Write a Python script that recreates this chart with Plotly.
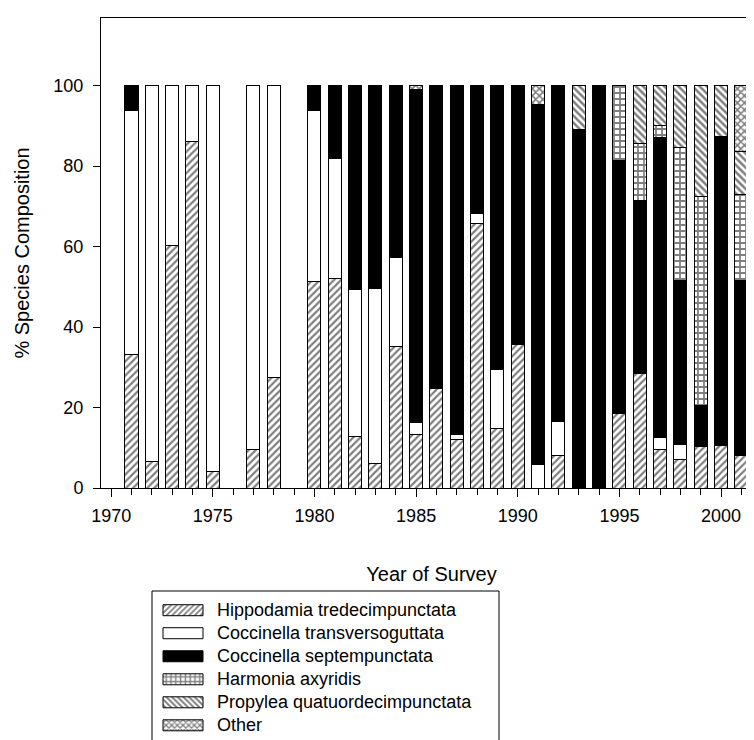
import plotly.graph_objects as go

# ---------------- data ----------------
years = [1971, 1972, 1973, 1974, 1975, 1977, 1978,
         1980, 1981, 1982, 1983, 1984, 1985, 1986, 1987, 1988, 1989, 1990,
         1991, 1992, 1993, 1994, 1995, 1996, 1997, 1998, 1999, 2000, 2001]

hippodamia = [33.3, 6.6, 60.2, 86.0, 4.1, 9.6, 27.5,
              51.3, 52.0, 12.8, 6.1, 35.1, 13.4, 24.8, 12.1, 65.8, 14.9, 35.7,
              0, 8.2, 0, 0, 18.6, 28.4, 9.6, 7.0, 10.3, 10.5, 8.0]
transversoguttata = [60.5, 93.4, 39.8, 14.0, 95.9, 90.4, 72.5,
                     42.5, 29.8, 36.5, 43.6, 22.2, 2.9, 0, 1.3, 2.3, 14.5, 0,
                     5.9, 8.3, 0, 0, 0, 0, 3.0, 3.9, 0, 0, 0]
septempunctata = [6.2, 0, 0, 0, 0, 0, 0,
                  6.2, 18.2, 50.7, 50.3, 42.7, 82.7, 75.2, 86.6, 31.9, 70.6, 64.3,
                  89.5, 83.5, 89.0, 100.0, 62.7, 43.0, 74.4, 40.6, 10.3, 76.9, 43.5]
harmonia = [0, 0, 0, 0, 0, 0, 0,
            0, 0, 0, 0, 0, 0, 0, 0, 0, 0, 0,
            0, 0, 0, 0, 18.7, 14.1, 3.1, 33.2, 51.9, 0, 21.4]
propylea = [0, 0, 0, 0, 0, 0, 0,
            0, 0, 0, 0, 0, 0, 0, 0, 0, 0, 0,
            0, 0, 11.0, 0, 0, 14.5, 9.9, 15.3, 27.5, 12.6, 10.8]
other = [0, 0, 0, 0, 0, 0, 0,
         0, 0, 0, 0, 0, 1.0, 0, 0, 0, 0, 0,
         4.6, 0, 0, 0, 0, 0, 0, 0, 0, 0, 16.3]

series_names = ["Hippodamia tredecimpunctata", "Coccinella transversoguttata",
                "Coccinella septempunctata", "Harmonia axyridis",
                "Propylea quatuordecimpunctata", "Other"]
series_values = [hippodamia, transversoguttata, septempunctata, harmonia, propylea, other]

y_ticks = [0, 20, 40, 60, 80, 100]
x_major_ticks = [1970, 1975, 1980, 1985, 1990, 1995, 2000]

# ---------------- styles ----------------
styles = [
    dict(color="white", pattern=dict(shape="/", size=5, solidity=0.45, fgcolor="black", bgcolor="white")),
    dict(color="white", pattern=None),
    dict(color="black", pattern=None),
    dict(color="white", pattern=dict(shape="+", size=6, solidity=0.5, fgcolor="black", bgcolor="white")),
    dict(color="white", pattern=dict(shape="\\", size=5, solidity=0.5, fgcolor="black", bgcolor="white")),
    dict(color="white", pattern=dict(shape="x", size=5, solidity=0.55, fgcolor="black", bgcolor="white")),
]

FONT = "Liberation Sans, Arial, sans-serif"
W, H = 754, 740
ML, MT, MB, MR = 93, 10, 260, 0
PW, PH = W - ML - MR, H - MT - MB
PX_PER_YEAR = 20.33


def px_to_paper_x(px):
    return (px - ML) / PW


def px_to_paper_y(py):
    return (H - MB - py) / PH


fig = go.Figure()
for name, vals, st in zip(series_names, series_values, styles):
    marker = dict(color=st["color"], line=dict(color="black", width=1))
    if st["pattern"] is not None:
        marker["pattern"] = st["pattern"]
    fig.add_trace(go.Bar(
        x=years,
        y=[v if v else None for v in vals],
        name=name,
        width=0.64,
        marker=marker,
    ))

x0 = 1969.5
fig.update_layout(
    width=W, height=H,
    barmode="stack",
    plot_bgcolor="white", paper_bgcolor="white",
    margin=dict(l=ML, r=MR, t=MT, b=MB, autoexpand=False),
    font=dict(family=FONT, size=18, color="black"),
    showlegend=True,
    legend=dict(
        traceorder="normal",
        x=px_to_paper_x(141), xanchor="left",
        y=px_to_paper_y(585.7), yanchor="top",
        font=dict(family=FONT, size=15.4, color="black"),
        bgcolor="rgba(0,0,0,0)", borderwidth=0,
        itemwidth=58, itemclick=False,
    ),
    xaxis=dict(
        range=[x0, x0 + PW / PX_PER_YEAR],
        showline=True, linecolor="black", linewidth=1, mirror=True,
        showgrid=False, zeroline=False,
        tickmode="array", tickvals=x_major_ticks,
        ticks="outside", ticklen=8, tickwidth=1, tickcolor="black",
        ticklabelstandoff=3,
        minor=dict(dtick=1, tick0=1970, ticks="outside", ticklen=6, tickwidth=1, tickcolor="black", showgrid=False),
        tickfont=dict(family=FONT, size=18),
        title=dict(text="Year of Survey", font=dict(family=FONT, size=20), standoff=42),
    ),
    yaxis=dict(
        range=[0, 116.8],
        showline=True, linecolor="black", linewidth=1, mirror=False,
        showgrid=False, zeroline=False,
        tickmode="array", tickvals=y_ticks,
        ticks="outside", ticklen=7, tickwidth=1, tickcolor="black",
        ticklabelstandoff=6,
        tickfont=dict(family=FONT, size=18),
        title=dict(text="% Species Composition", font=dict(family=FONT, size=20), standoff=18),
    ),
    shapes=[
        dict(type="rect", xref="paper", yref="paper",
             x0=px_to_paper_x(144), x1=px_to_paper_x(491),
             y0=px_to_paper_y(583), y1=px_to_paper_y(760),
             line=dict(color="black", width=1), fillcolor="rgba(0,0,0,0)"),
    ],
)

post = """
var gd = document.getElementById('{plot_id}');
try {
  var leg = gd.querySelector('.legend');
  if (leg) {
    leg.querySelectorAll('[clip-path]').forEach(function(e){ e.removeAttribute('clip-path'); });
    leg.querySelectorAll('.traces').forEach(function(g){
      g.querySelectorAll('.legendpoints path').forEach(function(p){ p.setAttribute('d','M20,5.5H-20V-5.5H20Z'); });
      g.querySelectorAll('text.legendtext').forEach(function(t){ t.style.fontSize='18px'; });
    });
  }
} catch(e) {}
"""

fig.write_html("out.html", post_script=post)
